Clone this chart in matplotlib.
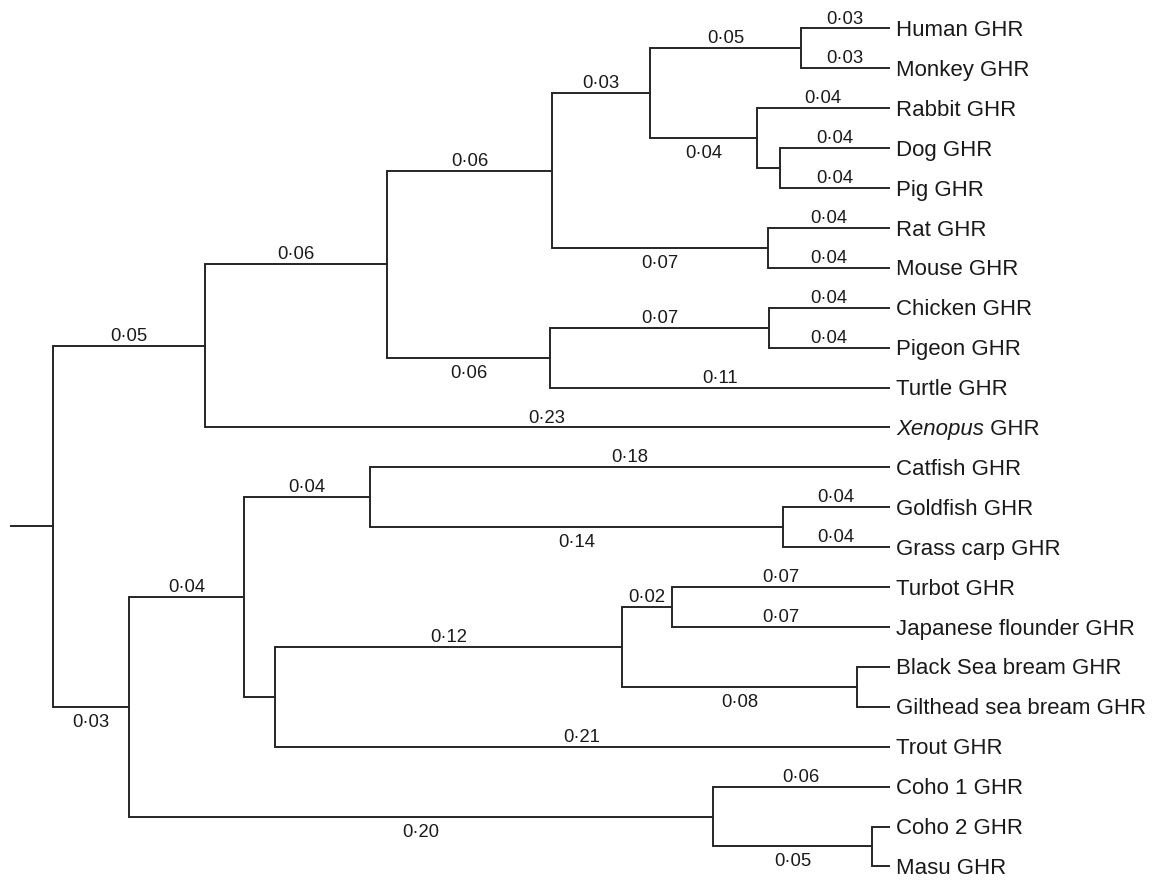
import matplotlib
matplotlib.use("Agg")
import matplotlib.pyplot as plt

plt.rcParams['font.family'] = ['Liberation Sans', 'DejaVu Sans']

# tree topology (internal node -> children, top to bottom)
children = {
    "root": ["tetrapods", "fishes"],
    "tetrapods": ["amniotes", "Xenopus GHR"],
    "amniotes": ["mammals", "sauropsids"],
    "mammals": ["m1", "rodents"],
    "m1": ["primates", "m2"],
    "primates": ["Human GHR", "Monkey GHR"],
    "m2": ["Rabbit GHR", "m3"],
    "m3": ["Dog GHR", "Pig GHR"],
    "rodents": ["Rat GHR", "Mouse GHR"],
    "sauropsids": ["birds", "Turtle GHR"],
    "birds": ["Chicken GHR", "Pigeon GHR"],
    "fishes": ["f1", "salmonids"],
    "f1": ["f2", "f3"],
    "f2": ["Catfish GHR", "cyprinids"],
    "cyprinids": ["Goldfish GHR", "Grass carp GHR"],
    "f3": ["percomorphs", "Trout GHR"],
    "percomorphs": ["flatfish", "breams"],
    "flatfish": ["Turbot GHR", "Japanese flounder GHR"],
    "breams": ["Black Sea bream GHR", "Gilthead sea bream GHR"],
    "salmonids": ["Coho 1 GHR", "c2"],
    "c2": ["Coho 2 GHR", "Masu GHR"],
}

# node heights above the tips (tips = 0)
heights = {
    "root": 0.280, "tetrapods": 0.229, "amniotes": 0.168, "mammals": 0.113,
    "sauropsids": 0.1135, "m1": 0.080, "primates": 0.0295, "m2": 0.0442,
    "m3": 0.0365, "rodents": 0.0405, "birds": 0.0402,
    "fishes": 0.2545, "f1": 0.216, "f2": 0.1738, "cyprinids": 0.0355,
    "f3": 0.2056, "percomorphs": 0.0894, "flatfish": 0.0727,
    "breams": 0.0107, "salmonids": 0.0589, "c2": 0.0057,
}

# branch length labels printed on the branch leading to each node
branch_labels = {
    "tetrapods": 0.05, "fishes": 0.03,
    "amniotes": 0.06, "Xenopus GHR": 0.23,
    "mammals": 0.06, "sauropsids": 0.06,
    "m1": 0.03, "rodents": 0.07,
    "primates": 0.05, "m2": 0.04,
    "Human GHR": 0.03, "Monkey GHR": 0.03,
    "Rabbit GHR": 0.04, "Dog GHR": 0.04, "Pig GHR": 0.04,
    "Rat GHR": 0.04, "Mouse GHR": 0.04,
    "birds": 0.07, "Turtle GHR": 0.11,
    "Chicken GHR": 0.04, "Pigeon GHR": 0.04,
    "f1": 0.04, "salmonids": 0.20,
    "f2": 0.04, "Catfish GHR": 0.18, "cyprinids": 0.14,
    "Goldfish GHR": 0.04, "Grass carp GHR": 0.04,
    "percomorphs": 0.12, "Trout GHR": 0.21,
    "flatfish": 0.02, "breams": 0.08,
    "Turbot GHR": 0.07, "Japanese flounder GHR": 0.07,
    "Coho 1 GHR": 0.06, "c2": 0.05,
}
root_stub = 0.014

# layout: x = distance from root, y = tip order
xpos, ypos = {}, {}
tips = []


def layout(node):
    xpos[node] = heights["root"] - heights.get(node, 0.0)
    if node not in children:
        ypos[node] = len(tips)
        tips.append(node)
        return
    for c in children[node]:
        layout(c)
    kids = children[node]
    ypos[node] = (ypos[kids[0]] + ypos[kids[-1]]) / 2


layout("root")

fig = plt.figure(figsize=(11.52, 8.8), dpi=100)
ax = fig.add_axes([0, 0, 1, 1])
scale = 2986.0  # pixels per unit of branch length
top, step = 28.5, 39.9  # pixel row of first tip, pixels between tips
ax.set_xlim(-53 / scale, (1152 - 53) / scale)
ax.set_ylim((880 - top) / step, -top / step)
ax.axis("off")

lc = "#262626"
lw = 1.4
tc = "#1a1a1a"

# root stub
ax.plot([-root_stub, 0], [ypos["root"], ypos["root"]], color=lc, lw=lw)

for node, kids in children.items():
    xn = xpos[node]
    xs = [xpos[kids[0]], xn, xn, xpos[kids[-1]]]
    ys = [ypos[kids[0]], ypos[kids[0]], ypos[kids[-1]], ypos[kids[-1]]]
    ax.plot(xs, ys, color=lc, lw=lw, solid_joinstyle="miter")
    for i, c in enumerate(kids):
        if c not in branch_labels:
            continue
        txt = f"{branch_labels[c]:.2f}".replace(".", "\u00b7")
        xm = (xn + xpos[c]) / 2
        # lower child that is an internal node gets its label under the line
        below = i == len(kids) - 1 and c in children
        dy = -20 if below else 5
        ax.annotate(txt, (xm, ypos[c]), xytext=(0, dy), textcoords="offset pixels",
                    ha="center", va="baseline", fontsize=13.3, color=tc)

for t in tips:
    if t.startswith("Xenopus"):
        first = ax.annotate("Xenopus", (xpos[t], ypos[t]), xytext=(7, -7.5),
                            textcoords="offset pixels", ha="left", va="baseline",
                            fontsize=16, style="italic", color=tc)
        ax.annotate(" GHR", xy=(1, 0), xycoords=first, ha="left", va="bottom",
                    fontsize=16, color=tc)
    else:
        ax.annotate(t, (xpos[t], ypos[t]), xytext=(7, -7.5), textcoords="offset pixels",
                    ha="left", va="baseline", fontsize=16, color=tc)

fig.savefig("out.png", dpi=100, facecolor="white")
